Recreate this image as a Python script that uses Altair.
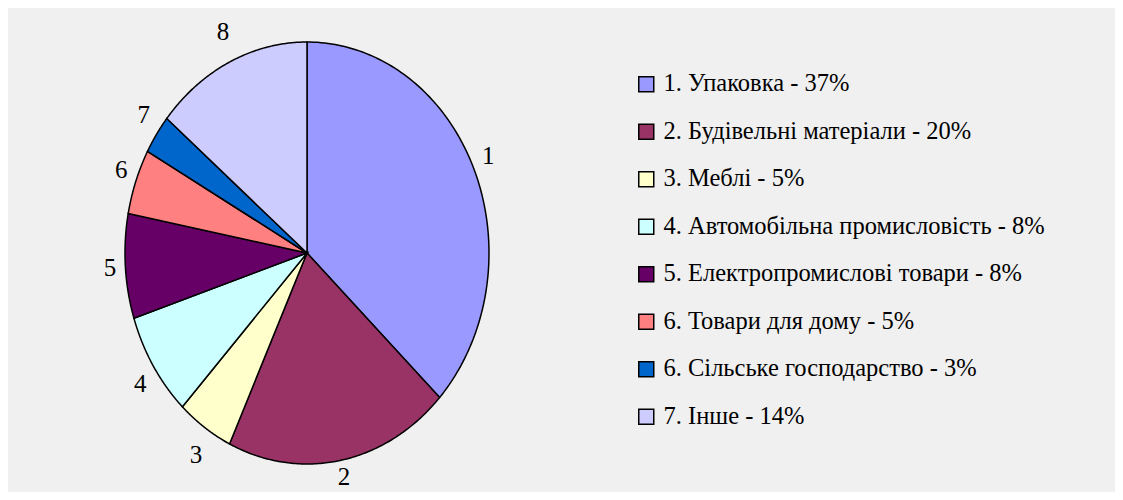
import altair as alt
import pandas as pd

# ---- data ----
numbers = ["1", "2", "3", "4", "5", "6", "7", "8"]
legend_labels = [
    "1. Упаковка - 37%",
    "2. Будівельні матеріали - 20%",
    "3. Меблі - 5%",
    "4. Автомобільна промисловість - 8%",
    "5. Електропромислові товари - 8%",
    "6. Товари для дому - 5%",
    "6. Сільське господарство - 3%",
    "7. Інше - 14%",
]
values = [37, 20, 5, 8, 8, 5, 3, 14]
colors = ["#9999FF", "#993366", "#FFFFCC", "#CCFFFF",
          "#660066", "#FF8080", "#0066CC", "#CCCCFF"]

# ---- tables built from the arrays ----
starts = []
acc = 0
for v in values:
    starts.append(acc)
    acc += v

slices = pd.DataFrame({"num": numbers, "label": legend_labels,
                       "value": values, "start": starts})

STEPS = 120
rows = []
for num, lab, v, s in zip(numbers, legend_labels, values, starts):
    for k in range(STEPS + 2):
        t = 0 if k == 0 else (k - 1) / STEPS
        rows.append({"label": lab, "value": v, "start": s, "k": k, "t": t})
poly = pd.DataFrame(rows)

FONT = "Liberation Serif"
xs = alt.Scale(domain=[-1, 1], nice=False, zero=False)
ys = alt.Scale(domain=[-1, 1], nice=False, zero=False)

pie = alt.Chart(poly).transform_calculate(
    ang="2*PI*(datum.start + datum.t*datum.value)/100"
).transform_calculate(
    px="datum.k == 0 ? 0 : sin(datum.ang)",
    py="datum.k == 0 ? 0 : cos(datum.ang)",
).mark_line(
    filled=True, interpolate="linear-closed", stroke="black",
    strokeWidth=1.5, opacity=1
).encode(
    x=alt.X("px:Q", scale=xs, axis=None),
    y=alt.Y("py:Q", scale=ys, axis=None),
    order=alt.Order("k:Q"),
    color=alt.Color(
        "label:N",
        scale=alt.Scale(domain=legend_labels, range=colors),
        legend=alt.Legend(
            title=None, orient="none", legendX=509, legendY=30,
            symbolType="square", symbolSize=225,
            symbolStrokeColor="black", symbolStrokeWidth=1.5,
            symbolOpacity=1,
            labelFont=FONT, labelFontSize=24.5, labelColor="black",
            labelLimit=0, labelOffset=5, rowPadding=22.5, padding=0,
        ),
    ),
)

text = alt.Chart(slices).transform_calculate(
    mid="2*PI*(datum.start + datum.value/2)/100"
).transform_calculate(
    lx="1.085*sin(datum.mid)",
    ly="max(-1.06, 1.16*cos(datum.mid))",
).mark_text(
    font=FONT, fontSize=25, color="black", align="center", baseline="middle"
).encode(
    x=alt.X("lx:Q", scale=xs, axis=None),
    y=alt.Y("ly:Q", scale=ys, axis=None),
    text="num:N",
)

chart = alt.layer(pie, text).properties(
    width=364, height=422,
    padding={"left": 117, "top": 34, "right": 626, "bottom": 28},
    autosize=alt.AutoSizeParams(type="none"),
    background="#F0F0F0",
).configure(font=FONT).configure_view(stroke=None).configure_legend(
    labelFont=FONT, labelFontSize=24.5, labelColor="black"
)

chart.save("out.html", embed_options={"renderer": "svg", "actions": False})
